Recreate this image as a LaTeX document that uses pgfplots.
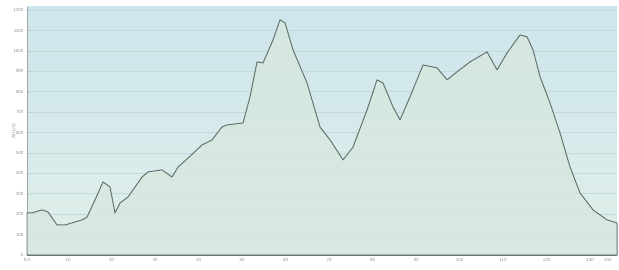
\documentclass[border=0pt]{standalone}
\usepackage{pgfplots}
\pgfplotsset{compat=1.18}
\usepackage{fontspec}
\setmainfont{Liberation Sans}
\definecolor{bgtop}{HTML}{CDE5EC}
\definecolor{bgbot}{HTML}{E0EFEA}
\definecolor{areafill}{HTML}{D6E8DF}
\definecolor{linecol}{HTML}{66746F}
\definecolor{gridcol}{HTML}{C2DADC}
\definecolor{labcol}{HTML}{8A9694}
\begin{document}
\begin{tikzpicture}
\path[use as bounding box] (0,0) rectangle (619bp,270bp);
\begin{axis}[
  at={(27bp,15bp)}, anchor=south west,
  width=590bp, height=248bp, scale only axis,
  xmin=0.57, xmax=136.2, ymin=0, ymax=1215,
  axis background/.style={shade, top color=bgtop, bottom color=bgbot},
  xtick={0.57,10,20,30,40,50,60,70,80,90,100,110,120,130,134.1},
  xticklabels={0.0,10,20,30,40,50,60,70,80,90,100,110,120,130,134},
  ytick={0,100,...,1200},
  /pgf/number format/1000 sep={},
  ymajorgrids, grid style={gridcol, line width=0.6pt},
  tick label style={font=\fontsize{4.5}{5}\selectfont, text=labcol},
  /pgf/number format/assume math mode=true,
  ylabel={Alt (m)}, ylabel style={font=\fontsize{5}{6}\selectfont, text=labcol, at={(axis description cs:-0.012,0.5)}},
  axis x line*=bottom, axis y line*=left,
  x axis line style={draw=gray!80!black, line width=1.2pt},
  y axis line style={draw=gray!70},
  tick style={draw=gray!60, major tick length=2pt},
  xtick pos=bottom, ytick pos=left,
  clip=false,
]
\addplot[draw=linecol, line width=1pt, line join=round, fill=areafill, fill opacity=0.85] coordinates {
(0.57,206) (1.72,206) (4.02,221) (5.40,211) (7.47,147) (9.31,147) (13.22,172) (14.37,186)
(16.21,270) (18.05,358) (19.66,333) (20.80,206) (21.95,255) (23.79,284) (27.01,382) (28.39,407)
(31.61,417) (33.91,382) (35.29,431) (37.59,475) (40.80,539) (43.10,564) (45.40,627) (46.55,637)
(50.23,647) (51.84,775) (53.45,946) (54.83,941) (57.13,1054) (58.74,1152) (59.89,1137) (61.72,1005)
(64.94,843) (67.93,627) (70.23,564) (73.22,466) (75.52,529) (78.74,711) (81.03,858) (82.41,843)
(84.71,725) (86.32,662) (88.62,775) (91.61,931) (94.83,917) (97.13,858) (98.51,882) (102.41,946)
(106.32,995) (108.62,907) (110.92,990) (113.91,1078) (115.52,1069) (116.90,1005) (118.51,873)
(120.80,745) (123.10,598) (125.40,431) (127.70,304) (130.69,221) (133.91,172) (136.2,157)
} \closedcycle;
\end{axis}
\end{tikzpicture}
\end{document}
